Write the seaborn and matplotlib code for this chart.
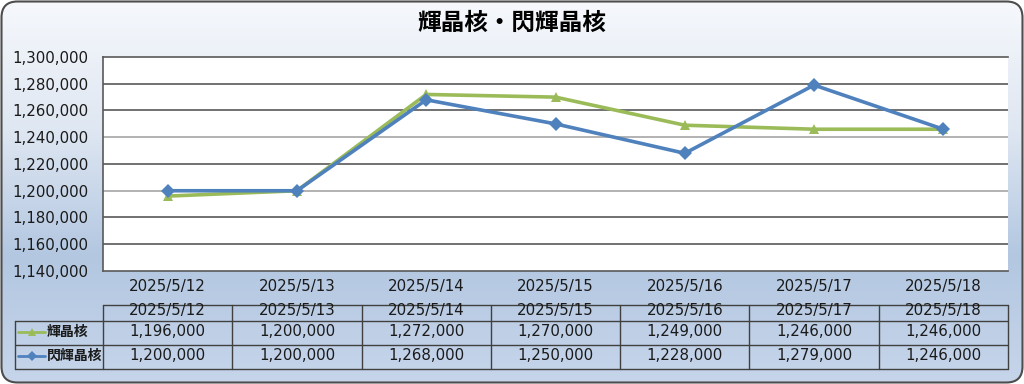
import numpy as np
import pandas as pd
import matplotlib.pyplot as plt
import seaborn as sns
from matplotlib.patches import FancyBboxPatch
from matplotlib.lines import Line2D
from matplotlib.colors import LinearSegmentedColormap

# data
dates = ["2025/5/12", "2025/5/13", "2025/5/14", "2025/5/15", "2025/5/16", "2025/5/17", "2025/5/18"]
kishokaku = [1196000, 1200000, 1272000, 1270000, 1249000, 1246000, 1246000]
senki_kishokaku = [1200000, 1200000, 1268000, 1250000, 1228000, 1279000, 1246000]
series_names = ["輝晶核", "閃輝晶核"]
chart_title = "輝晶核・閃輝晶核"
y_ticks = [1140000, 1160000, 1180000, 1200000, 1220000, 1240000, 1260000, 1280000, 1300000]

colors = {"輝晶核": "#9bbb59", "閃輝晶核": "#4f81bd"}
markers = {"輝晶核": "^", "閃輝晶核": "D"}

df = pd.DataFrame({
    "date": dates * 2,
    "value": kishokaku + senki_kishokaku,
    "series": [series_names[0]] * len(dates) + [series_names[1]] * len(dates),
})

sns.set_theme(style="white")
plt.rcParams["font.family"] = ["DejaVu Sans", "Noto Sans CJK JP"]
jp_font = ["Noto Sans CJK JP", "DejaVu Sans"]
num_size = 10.8

W, H = 1024, 384
fig = plt.figure(figsize=(W / 100, H / 100), dpi=100)
fig.patch.set_facecolor("white")

# background panel with gradient and rounded border (pixel coords, y down)
bg = fig.add_axes([0, 0, 1, 1])
bg.set_xlim(0, W)
bg.set_ylim(H, 0)
bg.axis("off")
cmap = LinearSegmentedColormap.from_list("bg", ["#f6f8fc", "#dfe7f2", "#b3c7e1", "#c6d5ea"])
grad = np.linspace(0, 1, 256).reshape(-1, 1)
img = bg.imshow(grad, cmap=cmap, extent=(1, W - 1, H - 1, 1), aspect="auto", zorder=0)
frame = FancyBboxPatch((1.5, 1.5), W - 3, H - 3, boxstyle="round,pad=0,rounding_size=16",
                       fc="none", ec="#4d4d4d", lw=1.5, zorder=3)
bg.add_patch(frame)
img.set_clip_path(frame)

bg.text(W / 2, 23, chart_title, ha="center", va="center", fontsize=17, fontweight="bold",
        color="black", family=jp_font)

# main plot area
left, right, top, bottom = 103, 1008, 57, 271
ax = fig.add_axes([left / W, 1 - bottom / H, (right - left) / W, (bottom - top) / H])
ax.set_facecolor("white")
sns.lineplot(data=df, x="date", y="value", hue="series", style="series",
             hue_order=series_names, palette=colors, markers=markers, dashes=False,
             markersize=7.5, markeredgewidth=0, linewidth=2.6, sort=False, legend=False, ax=ax)
ax.set_xlim(-0.5, len(dates) - 0.5)
ax.set_ylim(y_ticks[0], y_ticks[-1])
ax.set_yticks(y_ticks)
ax.set_yticklabels([f"{v:,}" for v in y_ticks])
ax.set_xticks(range(len(dates)))
ax.set_xticklabels(dates)
ax.set_xlabel("")
ax.set_ylabel("")
ax.tick_params(axis="both", length=0, labelsize=num_size, colors="#1a1a1a")
ax.tick_params(axis="y", pad=10.5)
ax.tick_params(axis="x", pad=6)
grid_colors = ["#595959", "#595959", "#595959", "#a6a6a6", "#595959", "#a6a6a6", "#595959", "#595959", "#595959"]
for v, c in zip(y_ticks[1:-1], grid_colors[1:-1]):
    ax.axhline(v, color=c, lw=1.2, zorder=0)
for s in ["left", "bottom", "top"]:
    ax.spines[s].set_color("#595959")
    ax.spines[s].set_linewidth(1.2)
ax.spines["right"].set_visible(False)

# data table under the chart
col_w = (right - left) / len(dates)
t_top, r1_top, r2_top, t_bot = 305, 320.5, 345, 369
leg_left = 15
lc = "#404040"
bg.plot([left, right], [t_top, t_top], color=lc, lw=1, zorder=4)
bg.plot([leg_left, right], [r1_top, r1_top], color=lc, lw=1, zorder=4)
bg.plot([leg_left, right], [r2_top, r2_top], color=lc, lw=1, zorder=4)
bg.plot([leg_left, right], [t_bot, t_bot], color=lc, lw=1, zorder=4)
bg.plot([leg_left, leg_left], [r1_top, t_bot], color=lc, lw=1, zorder=4)
for i in range(len(dates) + 1):
    x = left + i * col_w
    bg.plot([x, x], [t_top, t_bot], color=lc, lw=1, zorder=4)

for i, d in enumerate(dates):
    cx = left + (i + 0.5) * col_w
    bg.text(cx, 311, d, ha="center", va="center", fontsize=num_size, color="#1a1a1a", zorder=5)

rows = [(series_names[0], kishokaku, 332), (series_names[1], senki_kishokaku, 356)]
for name, vals, y in rows:
    bg.add_line(Line2D([18, 31.5, 45], [y, y, y], color=colors[name], lw=2, marker=markers[name],
                       markevery=[1], markersize=5.5, markeredgewidth=0, zorder=5))
    bg.text(47, y, name, ha="left", va="center", fontsize=10, fontweight="bold", color="#1a1a1a",
            family=jp_font, zorder=5)
    for i, v in enumerate(vals):
        cx = left + (i + 0.5) * col_w
        bg.text(cx, y, f"{v:,}", ha="center", va="center", fontsize=num_size, color="#1a1a1a", zorder=5)

fig.savefig("out.png", dpi=100)
